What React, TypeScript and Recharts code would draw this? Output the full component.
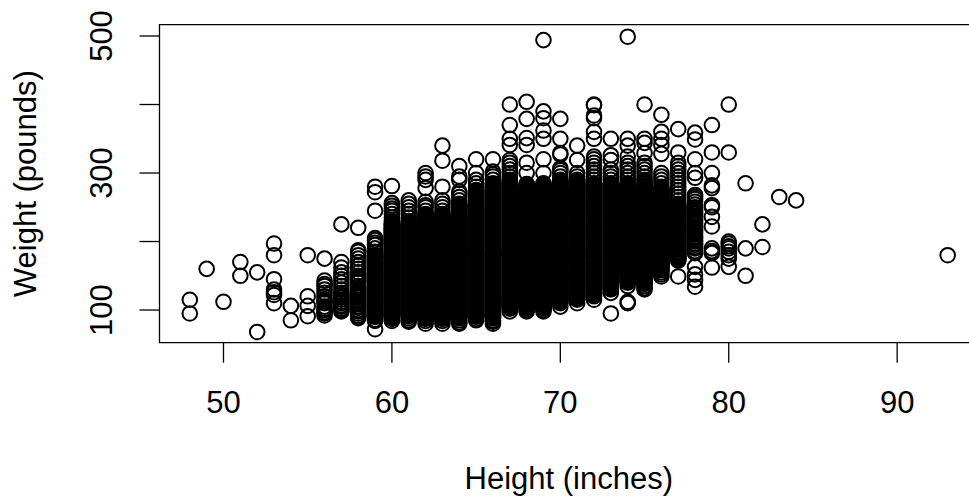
import { ScatterChart, Scatter, XAxis, YAxis, ReferenceArea } from 'recharts'

// weights (pounds), one list per height (inches)
const w48 = [115, 95]
const w49 = [160]
const w50 = [112]
const w51 = [170, 150]
const w52 = [155, 68]
const w53 = [197, 180, 145, 130, 126, 122, 110]
const w54 = [106, 85]
const w55 = [180, 120, 106, 91]
const w56 = [175, 143, 138, 135, 130, 125, 120, 115, 112, 110, 105, 102, 100, 97, 95, 92]
const w57 = [225, 170, 162, 155, 150, 145, 140, 135, 130, 125, 122, 120, 118, 115, 112, 110, 107, 105, 102, 100, 98]
const w58 = [220, 187, 185, 180, 175, 170, 165, 160, 155, 150, 147, 145, 142, 140, 135, 132, 130, 128, 125, 122, 120, 118, 115, 112, 110, 108, 105, 103, 100, 98, 95, 92, 90, 88]
const w59 = [280, 272, 245, 205, 202, 198, 195, 190, 185, 180, 177, 175, 172, 170, 167, 165, 162, 160, 157, 155, 152, 150, 147, 145, 142, 140, 137, 135, 132, 130, 127, 125, 122, 120, 117, 115, 112, 110, 107, 105, 102, 100, 97, 95, 92, 90, 86, 84, 72]
const w60 = [281, 256, 252, 248, 245, 240, 235, 230, 225, 220, 217, 215, 212, 210, 207, 205, 202, 200, 197, 195, 192, 190, 187, 185, 182, 180, 177, 175, 172, 170, 167, 165, 162, 160, 157, 155, 152, 150, 147, 145, 142, 140, 137, 135, 132, 130, 127, 125, 122, 120, 117, 115, 112, 110, 107, 105, 102, 100, 97, 95, 92, 90, 87, 84]
const w61 = [260, 255, 250, 245, 240, 235, 230, 225, 222, 220, 217, 215, 212, 210, 207, 205, 202, 200, 197, 195, 192, 190, 187, 185, 182, 180, 177, 175, 172, 170, 167, 165, 162, 160, 157, 155, 152, 150, 147, 145, 142, 140, 137, 135, 132, 130, 127, 125, 122, 120, 117, 115, 112, 110, 107, 105, 102, 100, 97, 95, 92, 88, 85, 83]
const w62 = [300, 295, 290, 278, 258, 253, 250, 245, 240, 235, 230, 227, 225, 222, 220, 217, 215, 212, 210, 207, 205, 202, 200, 197, 195, 192, 190, 187, 185, 182, 180, 177, 175, 172, 170, 167, 165, 162, 160, 157, 155, 152, 150, 147, 145, 142, 140, 137, 135, 132, 130, 127, 125, 122, 120, 117, 115, 112, 110, 107, 105, 102, 100, 97, 95, 92, 90, 87, 84, 80]
const w63 = [340, 318, 280, 260, 255, 250, 245, 240, 235, 230, 227, 225, 222, 220, 217, 215, 212, 210, 207, 205, 202, 200, 197, 195, 192, 190, 187, 185, 182, 180, 177, 175, 172, 170, 167, 165, 162, 160, 157, 155, 152, 150, 147, 145, 142, 140, 137, 135, 132, 130, 127, 125, 122, 120, 117, 115, 112, 110, 107, 105, 102, 100, 97, 95, 92, 90, 87, 84, 80]
const w64 = [310, 295, 290, 273, 270, 265, 260, 255, 250, 245, 240, 237, 235, 232, 230, 227, 225, 222, 220, 217, 215, 212, 210, 207, 205, 202, 200, 197, 195, 192, 190, 187, 185, 182, 180, 177, 175, 172, 170, 167, 165, 162, 160, 157, 155, 152, 150, 147, 145, 142, 140, 137, 135, 132, 130, 127, 125, 122, 120, 117, 115, 112, 110, 107, 105, 102, 100, 97, 95, 92, 90, 85, 82, 80]
const w65 = [320, 300, 290, 285, 280, 275, 270, 265, 260, 255, 250, 247, 245, 242, 240, 237, 235, 232, 230, 227, 225, 222, 220, 217, 215, 212, 210, 207, 205, 202, 200, 197, 195, 192, 190, 187, 185, 182, 180, 177, 175, 172, 170, 167, 165, 162, 160, 157, 155, 152, 150, 147, 145, 142, 140, 137, 135, 132, 130, 127, 125, 122, 120, 117, 115, 112, 110, 107, 105, 102, 100, 97, 95, 92, 90, 87, 85]
const w66 = [320, 302, 298, 295, 290, 285, 280, 275, 270, 265, 260, 255, 250, 247, 245, 242, 240, 237, 235, 232, 230, 227, 225, 222, 220, 217, 215, 212, 210, 207, 205, 202, 200, 197, 195, 192, 190, 187, 185, 182, 180, 177, 175, 172, 170, 167, 165, 162, 160, 157, 155, 152, 150, 147, 145, 142, 140, 137, 135, 132, 130, 127, 125, 122, 120, 117, 115, 112, 110, 107, 105, 102, 100, 97, 95, 92, 90, 85, 83, 80]
const w67 = [400, 370, 350, 341, 319, 315, 310, 305, 300, 295, 290, 285, 280, 275, 270, 267, 265, 262, 260, 257, 255, 252, 250, 247, 245, 242, 240, 237, 235, 232, 230, 227, 225, 222, 220, 217, 215, 212, 210, 207, 205, 202, 200, 197, 195, 192, 190, 187, 185, 182, 180, 177, 175, 172, 170, 167, 165, 162, 160, 157, 155, 152, 150, 147, 145, 142, 140, 137, 135, 132, 130, 127, 125, 122, 120, 117, 115, 112, 110, 107, 105, 102, 98]
const w68 = [404, 379, 351, 341, 315, 300, 280, 275, 272, 270, 267, 265, 262, 260, 257, 255, 252, 250, 247, 245, 242, 240, 237, 235, 232, 230, 227, 225, 222, 220, 217, 215, 212, 210, 207, 205, 202, 200, 197, 195, 192, 190, 187, 185, 182, 180, 177, 175, 172, 170, 167, 165, 162, 160, 157, 155, 152, 150, 147, 145, 142, 140, 137, 135, 132, 130, 127, 125, 122, 120, 117, 115, 112, 110, 107, 105, 103, 100, 98]
const w69 = [494, 390, 380, 362, 350, 320, 300, 285, 280, 277, 275, 272, 270, 267, 265, 262, 260, 257, 255, 252, 250, 247, 245, 242, 240, 237, 235, 232, 230, 227, 225, 222, 220, 217, 215, 212, 210, 207, 205, 202, 200, 197, 195, 192, 190, 187, 185, 182, 180, 177, 175, 172, 170, 167, 165, 162, 160, 157, 155, 152, 150, 147, 145, 142, 140, 137, 135, 132, 130, 127, 125, 122, 120, 117, 115, 112, 110, 107, 103, 100, 98]
const w70 = [379, 350, 329, 327, 307, 304, 300, 295, 290, 285, 280, 277, 275, 272, 270, 267, 265, 262, 260, 257, 255, 252, 250, 247, 245, 242, 240, 237, 235, 232, 230, 227, 225, 222, 220, 217, 215, 212, 210, 207, 205, 202, 200, 197, 195, 192, 190, 187, 185, 182, 180, 177, 175, 172, 170, 167, 165, 162, 160, 157, 155, 152, 150, 147, 145, 142, 140, 137, 135, 132, 130, 127, 125, 122, 120, 117, 115, 110, 105]
const w71 = [340, 319, 300, 295, 290, 285, 282, 280, 277, 275, 272, 270, 267, 265, 262, 260, 257, 255, 252, 250, 247, 245, 242, 240, 237, 235, 232, 230, 227, 225, 222, 220, 217, 215, 212, 210, 207, 205, 202, 200, 197, 195, 192, 190, 187, 185, 182, 180, 177, 175, 172, 170, 167, 165, 162, 160, 157, 155, 152, 150, 147, 145, 142, 140, 137, 135, 132, 130, 127, 125, 122, 118, 115, 110]
const w72 = [400, 399, 384, 380, 360, 350, 324, 320, 315, 310, 305, 300, 295, 290, 285, 282, 280, 277, 275, 272, 270, 267, 265, 262, 260, 257, 255, 252, 250, 247, 245, 242, 240, 237, 235, 232, 230, 227, 225, 222, 220, 217, 215, 212, 210, 207, 205, 202, 200, 197, 195, 192, 190, 187, 185, 182, 180, 177, 175, 172, 170, 167, 165, 162, 160, 157, 155, 152, 150, 147, 145, 142, 140, 137, 135, 132, 130, 125, 120, 115]
const w73 = [350, 326, 319, 305, 300, 295, 290, 285, 282, 280, 277, 275, 272, 270, 267, 265, 262, 260, 257, 255, 252, 250, 247, 245, 242, 240, 237, 235, 232, 230, 227, 225, 222, 220, 217, 215, 212, 210, 207, 205, 202, 200, 197, 195, 192, 190, 187, 185, 182, 180, 177, 175, 172, 170, 167, 165, 162, 160, 157, 155, 152, 150, 147, 145, 142, 140, 137, 132, 130, 125, 95]
const w74 = [499, 350, 340, 324, 315, 310, 305, 300, 295, 290, 285, 282, 280, 277, 275, 272, 270, 267, 265, 262, 260, 257, 255, 252, 250, 247, 245, 242, 240, 237, 235, 232, 230, 227, 225, 222, 220, 217, 215, 212, 210, 207, 205, 202, 200, 197, 195, 192, 190, 187, 185, 182, 180, 177, 175, 172, 170, 167, 165, 162, 160, 157, 155, 152, 150, 145, 140, 135, 112, 110]
const w75 = [400, 350, 344, 329, 315, 310, 305, 300, 295, 290, 287, 285, 282, 280, 277, 275, 272, 270, 267, 265, 262, 260, 257, 255, 252, 250, 247, 245, 242, 240, 237, 235, 232, 230, 227, 225, 222, 220, 217, 215, 212, 210, 207, 205, 202, 200, 197, 195, 192, 190, 187, 185, 182, 180, 177, 175, 172, 170, 167, 165, 162, 160, 157, 155, 152, 150, 147, 145, 140, 135, 132, 130]
const w76 = [385, 360, 350, 341, 328, 300, 295, 290, 285, 280, 277, 275, 272, 270, 267, 265, 262, 260, 257, 255, 252, 250, 247, 245, 242, 240, 237, 235, 232, 230, 227, 225, 222, 220, 217, 215, 212, 210, 207, 205, 202, 200, 197, 195, 192, 190, 187, 185, 182, 180, 177, 175, 172, 170, 167, 165, 160, 155, 152, 149]
const w77 = [364, 330, 315, 310, 305, 300, 295, 290, 285, 280, 275, 270, 265, 260, 255, 250, 247, 245, 242, 240, 237, 235, 232, 230, 227, 225, 222, 220, 217, 215, 212, 210, 207, 205, 202, 200, 197, 195, 190, 185, 180, 175, 172, 149]
const w78 = [359, 349, 320, 300, 293, 268, 265, 262, 258, 254, 250, 247, 245, 242, 240, 237, 235, 232, 230, 227, 225, 222, 220, 217, 215, 213, 210, 207, 205, 202, 200, 197, 195, 192, 190, 186, 183, 163, 152, 144, 134]
const w79 = [370, 330, 300, 282, 278, 253, 250, 236, 222, 190, 186, 183, 162]
const w80 = [400, 330, 200, 197, 193, 190, 185, 180, 175, 163]
const w81 = [285, 190, 150]
const w82 = [225, 192]
const w83 = [265]
const w84 = [260]
const w93 = [180]

const columns: [number, number[]][] = [
  [48, w48], [49, w49], [50, w50], [51, w51], [52, w52], [53, w53], [54, w54], [55, w55],
  [56, w56], [57, w57], [58, w58], [59, w59], [60, w60], [61, w61], [62, w62], [63, w63],
  [64, w64], [65, w65], [66, w66], [67, w67], [68, w68], [69, w69], [70, w70], [71, w71],
  [72, w72], [73, w73], [74, w74], [75, w75], [76, w76], [77, w77], [78, w78], [79, w79],
  [80, w80], [81, w81], [82, w82], [83, w83], [84, w84], [93, w93],
]

// the overplotted solid part of each column: other reported weights, kept where the picture is black
const reportedWeights = [
  88, 89, 91, 93, 94, 96, 98, 99, 101, 103, 104, 106, 108, 109, 111, 113, 114, 116, 118, 119, 121, 123, 124, 126, 128, 129,
  131, 133, 134, 136, 138, 139, 141, 143, 144, 146, 148, 149, 151, 153, 154, 156, 158, 159, 161, 163, 164, 166, 168, 169,
  171, 173, 174, 176, 178, 179, 181, 183, 184, 186, 188, 189, 191, 193, 194, 196, 198, 199, 201, 203, 204, 206, 208, 209,
  211, 213, 214, 216, 218, 219, 221, 223, 224, 226, 228, 229, 231, 233, 234, 236, 238, 239, 241, 243, 244, 246, 248, 249,
  251, 253, 254, 256, 258, 259, 261, 263, 264, 266, 268, 269, 271, 273, 274, 276, 278, 279, 281, 283, 284, 286, 288, 289,
]
const solidHeights = [59, 60, 61, 62, 63, 64, 65, 66, 67, 68, 69, 70, 71, 72, 73, 74, 75, 76, 77]
const solidLow = [91, 88, 91, 88, 88, 88, 91, 88, 102, 102, 102, 110, 115, 120, 130, 140, 138, 158, 172]
const solidHigh = [180, 228, 228, 240, 240, 255, 275, 285, 289, 285, 285, 289, 289, 285, 285, 285, 280, 275, 255]

const points = columns.flatMap(([height, weights]) => weights.map(weight => ({ height, weight })))
const solidPoints = solidHeights.flatMap((height, i) =>
  reportedWeights
    .filter(weight => weight >= solidLow[i] && weight <= solidHigh[i])
    .map(weight => ({ height, weight })),
)

const xTicks = [50, 60, 70, 80, 90]
const yTicks = [100, 200, 300, 400, 500]
const yLabelled = [100, 300, 500]

const xDomain: [number, number] = [46.2, 94.8]
const yDomain: [number, number] = [52.3, 516.5]

const FONT = '"Liberation Sans", Arial, sans-serif'
const FONT_SIZE = 31

function YTick({ x, y, payload }: any) {
  if (!yLabelled.includes(payload.value)) return null
  return (
    <text
      transform={`translate(${x - 26}, ${y}) rotate(-90)`}
      textAnchor="middle"
      fontFamily={FONT}
      fontSize={FONT_SIZE}
      fill="#000"
    >
      {payload.value}
    </text>
  )
}

function Ring({ cx, cy }: any) {
  return <circle cx={cx} cy={cy} r={7.3} fill="none" stroke="#000" strokeWidth={2} />
}

export default function App() {
  return (
    <div style={{ position: 'absolute', left: 0, top: 0, width: 969, height: 497, overflow: 'hidden', background: '#fff' }}>
      <ScatterChart width={990} height={497} margin={{ top: 24.7, right: 12, bottom: 0.3, left: 0 }}>
        <XAxis
          type="number"
          dataKey="height"
          domain={xDomain}
          ticks={xTicks}
          allowDataOverflow
          height={154}
          axisLine={false}
          tickSize={20}
          tickMargin={28}
          tickLine={{ stroke: '#000', strokeWidth: 1.3 }}
          tick={{ fill: '#000', fontSize: FONT_SIZE, fontFamily: FONT }}
          label={{ value: 'Height (inches)', position: 'insideBottom', offset: 8, fill: '#000', fontSize: FONT_SIZE, fontFamily: FONT }}
        />
        <YAxis
          type="number"
          dataKey="weight"
          domain={yDomain}
          ticks={yTicks}
          allowDataOverflow
          width={159.5}
          axisLine={false}
          tickSize={20}
          tickLine={{ stroke: '#000', strokeWidth: 1.3 }}
          tick={<YTick />}
          label={{ value: 'Weight (pounds)', angle: -90, position: 'insideLeft', offset: 25, fill: '#000', fontSize: FONT_SIZE, fontFamily: FONT, style: { textAnchor: 'middle' } }}
        />
        <ReferenceArea x1={xDomain[0]} x2={xDomain[1]} y1={yDomain[0]} y2={yDomain[1]} fill="none" stroke="#000" strokeWidth={1.3} />
        <Scatter data={points} shape={<Ring />} isAnimationActive={false} />
        <Scatter data={solidPoints} shape={<Ring />} isAnimationActive={false} />
      </ScatterChart>
    </div>
  )
}
